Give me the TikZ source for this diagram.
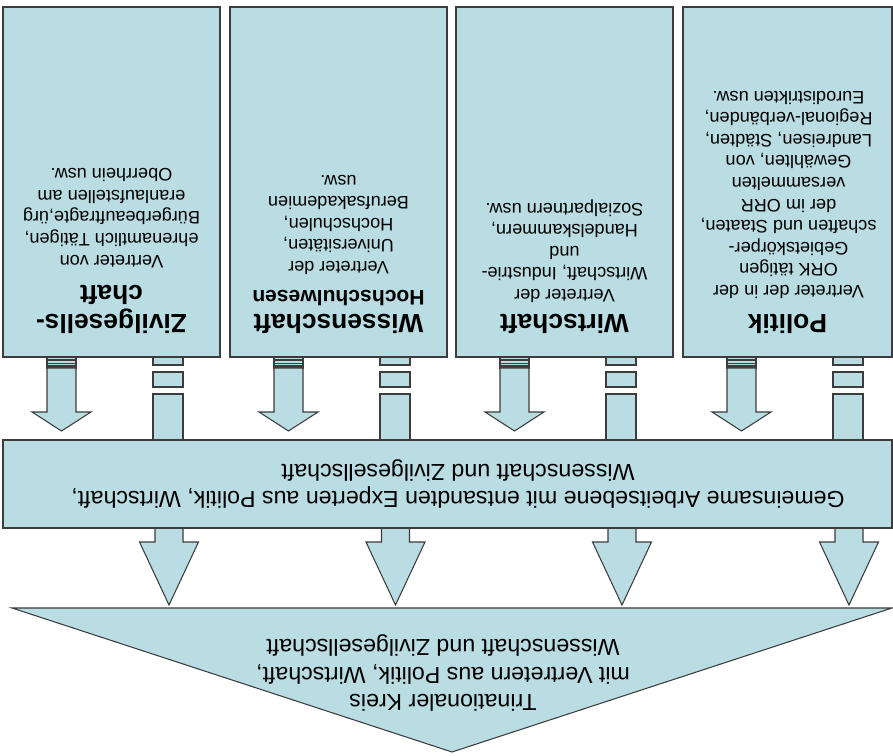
\documentclass[tikz,border=0pt]{standalone}
\usepackage{fontspec}
\setmainfont{Liberation Sans}
\definecolor{boxblue}{RGB}{185,221,227}
\definecolor{edgegray}{RGB}{60,60,60}
\tikzset{
  blockfill/.style={fill=boxblue, draw=edgegray, line width=0.6pt},
  flipped/.style={rotate=180, inner sep=0pt, align=center, text=black},
  titletext/.style={flipped, anchor=north, font=\fontsize{15}{16.5}\selectfont\bfseries},
  subtitletext/.style={flipped, anchor=north, font=\fontsize{12}{14}\selectfont\bfseries},
  bodytext/.style={flipped, anchor=north, font=\fontsize{10.3}{12.3}\selectfont},
  bandtext/.style={flipped, font=\fontsize{13.2}{15.6}\selectfont}
}
\begin{document}
\begin{tikzpicture}[x=0.02cm, y=-0.02cm]
	\useasboundingbox (0,0) rectangle (893,756);

	\foreach \L/\R in {3/220, 230/447, 456/673, 683/892}{
		\draw[blockfill] (\L,7) rectangle (\R,357);
		\draw[blockfill] (\L+44,357) rectangle (\L+73,368);
		\foreach \s in {360,363.5,366}
			\draw[edgegray, line width=0.8pt] (\L+44,\s) -- (\L+73,\s);
		\draw[blockfill] (\L+44,368) -- (\L+44,412) -- (\L+29,412) -- (\L+58.5,431)
			-- (\L+88,412) -- (\L+73,412) -- (\L+73,368) -- cycle;
		\draw[blockfill] (\L+150,357) rectangle (\L+180,365);
		\draw[blockfill] (\L+150,372) rectangle (\L+180,387);
		\draw[blockfill] (\L+150,394) rectangle (\L+180,441);
	}

	\foreach \c in {169, 395.5, 622, 849}{
		\draw[blockfill] (\c-14,527) -- (\c-14,542) -- (\c-29.5,542) -- (\c,605)
			-- (\c+29.5,542) -- (\c+14,542) -- (\c+14,527);
	}

	\draw[blockfill] (3,440) rectangle (892,528);
	\draw[blockfill] (12,608) -- (892,608) -- (452,752) -- cycle;

	\node[titletext] (zivil) at (111.5,334) {Zivilgesells-\\chaft};
	\node[bodytext] (zivilbody) at (111.5,268) {Vertreter von\\ehrenamtlich Tätigen,\\Bürgerbeauftragte,ürg\\eranlaufstellen am\\Oberrhein usw.};

	\node[titletext] (wissen) at (338.5,334) {Wissenschaft};
	\node[subtitletext] (hochschul) at (338.5,306) {Hochschulwesen};
	\node[bodytext] (wissenbody) at (338.5,275) {Vertreter der\\Universitäten,\\Hochschulen,\\Berufsakademien\\usw.};

	\node[titletext] (wirt) at (564.5,334) {Wirtschaft};
	\node[bodytext] (wirtbody) at (564.5,303) {Vertreter der\\Wirtschaft, Industrie-\\und\\Handelskammern,\\Sozialpartnern usw.};

	\node[titletext] (politik) at (787.5,334) {Politik};
	\node[bodytext] (politikbody) at (788.5,299) {Vertreter der in der\\ORK tätigen\\Gebietskörper-\\schaften und Staaten,\\der im ORR\\versammelten\\Gewählten, von\\Landreisen, Städten,\\Regional-verbänden,\\Eurodistrikten usw.};

	\node[bandtext] (ebene) at (458,484) {Gemeinsame Arbeitsebene mit entsandten Experten aus Politik, Wirtschaft,\\Wissenschaft und Zivilgesellschaft};
	\node[bandtext] (kreis) at (443,673) {Trinationaler Kreis\\mit Vertretern aus Politik, Wirtschaft,\\Wissenschaft und Zivilgesellschaft};
\end{tikzpicture}
\end{document}
